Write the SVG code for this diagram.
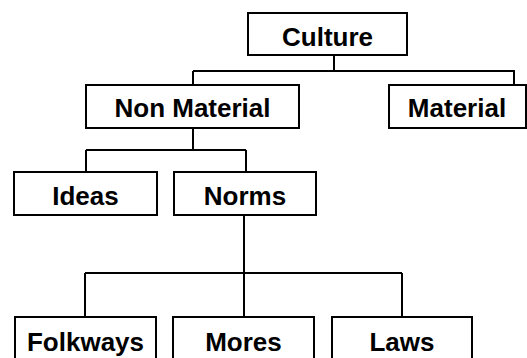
<svg xmlns="http://www.w3.org/2000/svg" width="527" height="358" viewBox="0 0 527 358">
<style>
.box{fill:#fff;stroke:#000;stroke-width:2}
.lbl{font-family:"Liberation Sans",Arial,sans-serif;font-weight:bold;font-size:26px;fill:#000;text-anchor:middle}
.conn{fill:none;stroke:#000;stroke-width:2}
</style>
<rect width="527" height="358" fill="#fff"/>
<g id="connectors" class="conn">
<path d="M334 55V71M193 71H514V85M193 71V85"/>
<path d="M193 128V150M86 150H246M86 150V172M246 150V172"/>
<path d="M244 215V273M85 273H402M85 273V317M244 273V317M402 273V317"/>
</g>
<g id="culture"><rect class="box" x="248" y="13" width="159" height="42"/><text class="lbl" x="327.5" y="46">Culture</text></g>
<g id="nonmaterial"><rect class="box" x="86" y="85" width="213" height="43"/><text class="lbl" x="192.5" y="117">Non Material</text></g>
<g id="material"><rect class="box" x="389" y="85" width="137" height="43"/><text class="lbl" x="457" y="117">Material</text></g>
<g id="ideas"><rect class="box" x="14" y="172" width="143" height="43"/><text class="lbl" x="85.5" y="205">Ideas</text></g>
<g id="norms"><rect class="box" x="174" y="172" width="142" height="43"/><text class="lbl" x="245" y="205">Norms</text></g>
<g id="folkways"><rect class="box" x="15" y="317" width="141" height="50"/><text class="lbl" x="85.5" y="351">Folkways</text></g>
<g id="mores"><rect class="box" x="173" y="317" width="141" height="50"/><text class="lbl" x="243.5" y="351">Mores</text></g>
<g id="laws"><rect class="box" x="332" y="317" width="140" height="50"/><text class="lbl" x="402" y="351">Laws</text></g>
</svg>
